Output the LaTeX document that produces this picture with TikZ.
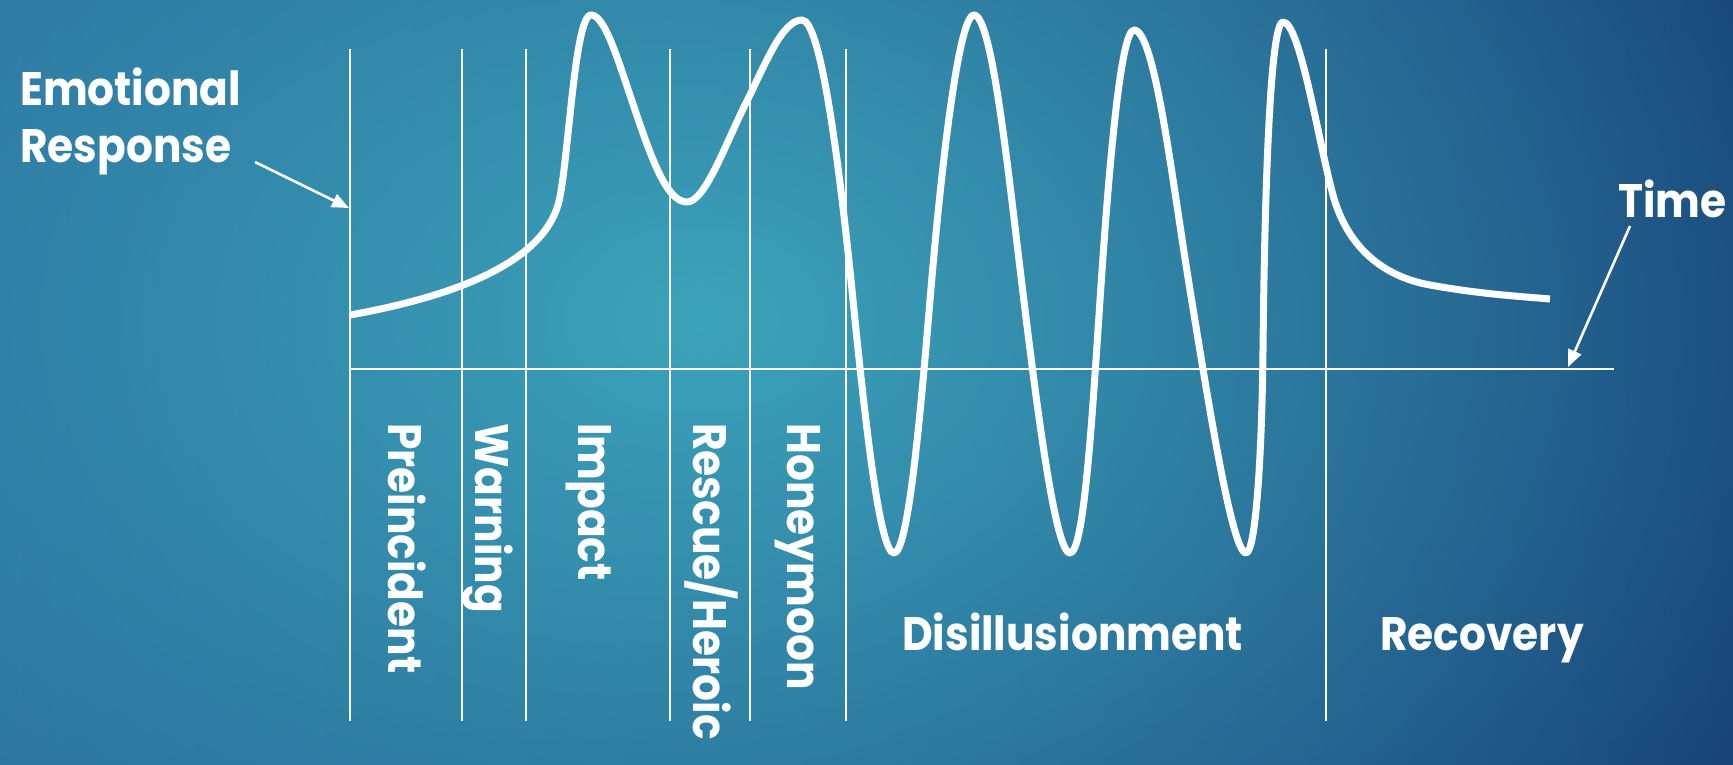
\documentclass[tikz,border=0pt]{standalone}
\usepackage{fontspec}
\setmainfont{Poppins}[FakeStretch=0.9]
\usetikzlibrary{arrows.meta,fadings}
\definecolor{bgleft}{HTML}{28679A}
\definecolor{bgright}{HTML}{163F76}
\definecolor{glow}{HTML}{3CA3BA}
\tikzfading[name=glowfade, inner color=transparent!0, outer color=transparent!100]
\tikzset{
  guide/.style={draw=white, line width=2pt},
  curve/.style={draw=white, line width=7pt, line cap=butt, line join=round},
  pointer/.style={draw=white, line width=2.6pt, -{Triangle[width=14pt,length=17pt]}},
  label/.style={text=white, font=\bfseries\fontsize{47}{50}\selectfont, inner sep=0pt, anchor=base west},
  phase/.style={label, rotate=-90}
}
\begin{document}
\begin{tikzpicture}[x=1pt,y=-1pt]
\useasboundingbox (0,0) rectangle (1733,764);
% background: deep blue that darkens to the right, with a teal glow
\begin{scope}
  \clip (0,0) rectangle (1733,764);
  \shade[left color=bgleft, right color=bgright] (0,0) rectangle (1733,764);
  \fill[glow, path fading=glowfade] (700,320) ellipse (1250 and 900);
\end{scope}

% phase boundaries
\foreach \x/\n in {350/b0,462/b1,526/b2,670/b3,750/b4,846/b5,1326/b6}{
  \coordinate (\n top) at (\x,49);
  \coordinate (\n bot) at (\x,721);
  \draw[guide] (\n top) -- (\n bot);
}
% time axis
\coordinate (axisL) at (350,369);
\coordinate (axisR) at (1614,369);
\draw[guide] (axisL) -- (axisR);

% emotional response curve
\draw[curve]
  (350,315) .. controls (450,297) and (540,265) .. (558,205)
            .. controls (568,172) and (574,15) .. (591,15)
            .. controls (605,15) and (618,60) .. (635,110)
            .. controls (652,160) and (667,202) .. (687,202)
            .. controls (705,202) and (725,145) .. (745,105)
            .. controls (765,65) and (782,20) .. (802,20)
            .. controls (820,20) and (838,150) .. (853,300)
            .. controls (866,430) and (880,553) .. (894,553)
            .. controls (908,553) and (920,420) .. (930,300)
            .. controls (940,180) and (958,15) .. (974,15)
            .. controls (992,15) and (1008,170) .. (1022,285)
            .. controls (1036,400) and (1055,553) .. (1070,553)
            .. controls (1084,553) and (1092,420) .. (1100,300)
            .. controls (1108,180) and (1120,30) .. (1134,30)
            .. controls (1155,30) and (1172,180) .. (1190,290)
            .. controls (1208,400) and (1232,553) .. (1246,553)
            .. controls (1256,553) and (1262,450) .. (1263,350)
            .. controls (1264,250) and (1268,22) .. (1283,22)
            .. controls (1300,22) and (1318,140) .. (1333,195)
            .. controls (1345,239) and (1375,275) .. (1430,285)
            .. controls (1480,294) and (1515,296) .. (1550,299);

% axis labels
\node[label] (emo1) at (20,105) {Emotional};
\node[label] (emo2) at (20,162) {Response};
\node[label] (time) at (1618,217) {Time};
\coordinate (emoTail) at (255,162);
\coordinate (emoTip) at (349,208);
\draw[pointer] (emoTail) -- (emoTip);
\coordinate (timeTail) at (1630,226);
\coordinate (timeTip) at (1568,367);
\draw[pointer] (timeTail) -- (timeTip);

% phase names
\node[phase] (pre) at (388,423) {Preincident};
\node[phase] (warn) at (475,423) {Warning};
\node[phase] (imp) at (578,423) {Impact};
\node[phase] (resc) at (693,423) {Rescue/Heroic};
\node[phase] (honey) at (787,423) {Honeymoon};
\node[label] (dis) at (902,650) {Disillusionment};
\node[label] (rec) at (1380,650) {Recovery};
\end{tikzpicture}
\end{document}
